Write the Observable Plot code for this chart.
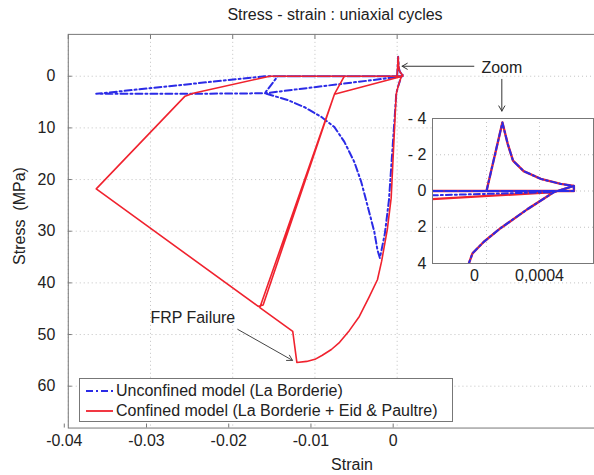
<!DOCTYPE html>
<html><head><meta charset="utf-8">
<script src="https://cdn.jsdelivr.net/npm/d3@7"></script>
<script src="https://cdn.jsdelivr.net/npm/@observablehq/plot@0.6"></script>
<style>
body{margin:0;background:#fff;font-family:"Liberation Sans",Arial,sans-serif;color:#222;}
#wrap{position:relative;width:594px;height:475px;overflow:hidden;background:#fff;}
.abs{position:absolute;white-space:nowrap;}
#wrap svg{overflow:visible;}
</style></head><body><div id="wrap"></div>
<script>
// ---- data (strain, stress MPa; compression positive) ----
const unconfinedStrain = [0, 0.00012, 0.00016, 0.0002, 0.00028, 0.00041, 0.00056, 0.00066, 0.00051, 0.00031, 0.000106, -0.00002, -0.000106, -0.000136, -0.001, -0.0015, -0.0021, -0.0024, -0.00278, -0.00363, -0.00436, -0.00521, -0.00642, -0.00763, -0.0092, -0.01126, -0.01332, -0.0161, -0.01453, 0.00066, 0.00066, 0.00051, -0.0161, -0.025, -0.0366, -0.0161, 0.00066];
const unconfinedStress = [0, -3.78, -2.6, -1.67, -1.1, -0.67, -0.39, -0.28, 0.06, 1.0, 2.05, 2.8, 3.44, 4.05, 24, 30.5, 35.2, 33.6, 30.1, 24.9, 20.5, 16.6, 12.7, 9.85, 7.9, 6.0, 4.6, 3.3, 0, 0, -0.28, 0.06, 3.3, 3.4, 3.4, 0, 0];
const confinedStrain = [0, 0.00012, 0.00016, 0.0002, 0.00028, 0.00041, 0.00056, 0.00066, 0.00051, 0.00031, 0.000106, -0.00002, -0.000106, -0.000136, -0.00073, -0.0012, -0.0019, -0.0024, -0.0034, -0.0046, -0.0058, -0.007, -0.008, -0.0091, -0.01, -0.011, -0.0122, -0.0127, -0.0167, -0.00763, -0.00642, 0.00066, 0.00066, 0.00051, -0.00763, -0.0163, -0.0169, -0.0366, -0.0258, -0.0248, -0.0155, 0.00066];
const confinedStress = [0, -3.78, -2.6, -1.67, -1.1, -0.67, -0.39, -0.28, 0.06, 1.0, 2.05, 2.8, 3.44, 4.05, 23.6, 29.7, 35.9, 39.4, 42.7, 46.5, 49.2, 51.5, 52.9, 54.0, 54.8, 55.2, 55.4, 49.4, 44.78, 3.47, 0, 0, -0.28, 0.06, 3.47, 44.3, 44.55, 21.8, 3.86, 3.28, 0, 0];

const xTicks = [-0.04, -0.03, -0.02, -0.01, 0];
const yTicks = [0, 10, 20, 30, 40, 50, 60];
const insetXTicks = [0, 0.0004];
const insetXLabels = ["0", "0,0004"];
const insetYTicks = [-4, -2, 0, 2, 4];

const seriesNames = ["Unconfined model (La Borderie)", "Confined model (La Borderie + Eid & Paultre)"];
const zoomArrows = [{x1: 0.00933, y1: -1.93, x2: 0.0006, y2: -1.93}, {x1: 0.01273, y1: 0.6, x2: 0.01273, y2: 6.75}];
const zoomLabel = [{x: 0.01273, y: -1.54, text: "Zoom"}];
const frpArrow = [{x1: -0.01939, y1: 49.0, x2: -0.01273, y2: 55.0}];
const frpLabel = [{x: -0.02485, y: 46.7, text: "FRP Failure"}];

const BLUE = "#2b2be6", RED = "#f0222e";
const DASH = "7,3,2,3";

const unconfined = unconfinedStrain.map((s, i) => ({s, v: unconfinedStress[i]}));
const confined = confinedStrain.map((s, i) => ({s, v: confinedStress[i]}));

const wrap = document.getElementById("wrap");
const font = '"Liberation Sans", Arial, sans-serif';

// ---- main chart ----
const main = Plot.plot({
  width: 596, height: 475,
  marginLeft: 68, marginRight: 0, marginTop: 34, marginBottom: 46,
  style: {fontFamily: font, fontSize: "16px", color: "#222", background: "transparent"},
  x: {domain: [-0.04, 0.024], label: null},
  y: {domain: [-8.1, 68.1], reverse: true, label: null},
  marks: [
    Plot.gridX(xTicks, {stroke: "#999", strokeOpacity: 0.6, strokeDasharray: "1,3"}),
    Plot.gridY(yTicks, {stroke: "#999", strokeOpacity: 0.6, strokeDasharray: "1,3"}),
    Plot.line(unconfined, {x: "s", y: "v", stroke: BLUE, strokeWidth: 2, strokeDasharray: DASH}),
    Plot.line(confined, {x: "s", y: "v", stroke: RED, strokeWidth: 1.6}),
    Plot.arrow(zoomArrows, {x1: "x1", y1: "y1", x2: "x2", y2: "y2", stroke: "#333", strokeWidth: 1, headLength: 9}),
    Plot.arrow(frpArrow, {x1: "x1", y1: "y1", x2: "x2", y2: "y2", stroke: "#444", strokeWidth: 1, headLength: 9}),
    Plot.text(zoomLabel, {x: "x", y: "y", text: "text", fontSize: 16, fill: "#222"}),
    Plot.text(frpLabel, {x: "x", y: "y", text: "text", fontSize: 16, fill: "#222"}),
    Plot.frame({stroke: "#777"}),
    Plot.axisX(xTicks, {anchor: "bottom", label: null, tickSize: -4, tickPadding: 11, dx: -4, fontSize: 16, tickFormat: d => String(d), stroke: "#777", fill: "#222"}),
    Plot.axisX(xTicks, {anchor: "top", label: null, tickSize: -4, tickFormat: () => "", stroke: "#777"}),
    Plot.axisY(yTicks, {anchor: "left", label: null, tickSize: -4, tickPadding: 17, fontSize: 16, tickFormat: d => String(d), stroke: "#777", fill: "#222"})
  ]
});
main.style.position = "absolute"; main.style.left = "0px"; main.style.top = "0px";
wrap.appendChild(main);

// ---- inset ----
const fmtY = d => d < 0 ? "- " + Math.abs(d) : String(d);
const inset = Plot.plot({
  width: 196, height: 179,
  marginLeft: 34, marginRight: 1, marginTop: 6, marginBottom: 28,
  style: {fontFamily: font, fontSize: "16px", color: "#222", background: "transparent"},
  x: {domain: [-0.000408, 0.000808], label: null},
  y: {domain: [-4, 4], reverse: true, label: null},
  marks: [
    Plot.frame({fill: "white"}),
    Plot.gridX(insetXTicks, {stroke: "#999", strokeOpacity: 0.6, strokeDasharray: "1,3"}),
    Plot.gridY([-2, 0, 2], {stroke: "#999", strokeOpacity: 0.6, strokeDasharray: "1,3"}),
    Plot.line(confined, {x: "s", y: "v", stroke: RED, strokeWidth: 2.4, clip: true}),
    Plot.line(unconfined, {x: "s", y: "v", stroke: BLUE, strokeWidth: 2, strokeDasharray: "6,3,2,3", clip: true}),
    Plot.frame({stroke: "#777"}),
    Plot.axisY(insetYTicks, {anchor: "left", label: null, tickSize: 0, tickPadding: 6, fontSize: 16, tickFormat: fmtY, fill: "#222"}),
    Plot.axisX([insetXTicks[0]], {anchor: "bottom", label: null, tickSize: 0, tickPadding: 6, dx: -12, fontSize: 16, tickFormat: () => insetXLabels[0], fill: "#222"}),
    Plot.axisX([insetXTicks[1]], {anchor: "bottom", label: null, tickSize: 0, tickPadding: 6, fontSize: 16, tickFormat: () => insetXLabels[1], fill: "#222"})
  ]
});
inset.style.position = "absolute"; inset.style.left = "398px"; inset.style.top = "112px";
wrap.appendChild(inset);

// ---- titles ----
function addText(txt, css) {
  const d = document.createElement("div");
  d.className = "abs"; d.textContent = txt;
  Object.assign(d.style, css);
  wrap.appendChild(d);
  return d;
}
addText("Stress - strain : uniaxial cycles", {left: "135px", width: "400px", top: "5px", lineHeight: "20px", textAlign: "center", fontSize: "16px"});
addText("Strain", {left: "252px", width: "200px", top: "455px", lineHeight: "20px", textAlign: "center", fontSize: "16px"});
addText("Stress  (MPa)", {left: "20px", top: "216px", fontSize: "16px", lineHeight: "20px", whiteSpace: "pre", transform: "translate(-50%,-50%) rotate(-90deg)"});

// ---- legend ----
const leg = document.createElement("div");
leg.className = "abs";
Object.assign(leg.style, {left: "79px", top: "378px", width: "372px", height: "42px", border: "1px solid #777", background: "#fff"});
const legendItems = [{name: seriesNames[0], color: BLUE, dash: DASH, w: 2}, {name: seriesNames[1], color: RED, dash: null, w: 1.8}];
legendItems.forEach((it, i) => {
  const row = document.createElement("div");
  Object.assign(row.style, {position: "absolute", left: "5px", top: (2 + i * 20) + "px", height: "20px", display: "flex", alignItems: "center", fontSize: "16px", whiteSpace: "nowrap"});
  const svg = document.createElementNS("http://www.w3.org/2000/svg", "svg");
  svg.setAttribute("width", "29"); svg.setAttribute("height", "10");
  const ln = document.createElementNS("http://www.w3.org/2000/svg", "line");
  ln.setAttribute("x1", "1"); ln.setAttribute("x2", "28"); ln.setAttribute("y1", "5"); ln.setAttribute("y2", "5");
  ln.setAttribute("stroke", it.color); ln.setAttribute("stroke-width", it.w);
  if (it.dash) ln.setAttribute("stroke-dasharray", it.dash);
  svg.appendChild(ln);
  const t = document.createElement("span");
  t.textContent = it.name; t.style.marginLeft = "2px";
  row.appendChild(svg); row.appendChild(t);
  leg.appendChild(row);
});
wrap.appendChild(leg);
</script>
</body></html>
